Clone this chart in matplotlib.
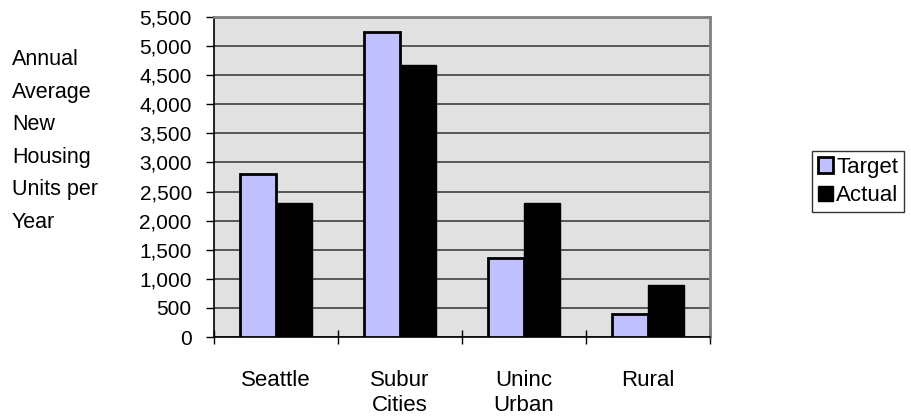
import matplotlib
matplotlib.use("Agg")
import matplotlib.pyplot as plt
import numpy as np
from matplotlib.patches import Patch
from matplotlib.ticker import FuncFormatter, MultipleLocator

plt.rcParams['font.family'] = ['Liberation Sans', 'DejaVu Sans']

categories = ["Seattle", "Subur\nCities", "Uninc\nUrban", "Rural"]
target = [2800, 5250, 1350, 400]
actual = [2300, 4680, 2300, 900]
series_names = ["Target", "Actual"]
y_label = "Annual\nAverage\nNew\nHousing\nUnits per\nYear"

fig = plt.figure(figsize=(9.12, 4.19), dpi=100)
ax = fig.add_axes([214/912, 1-337/419, (710-214)/912, (337-17)/419])
ax.set_facecolor("#E1E1E1")

x = np.arange(len(categories))
w = 0.29
ax.bar(x - w/2, target, w, color="#C0C0FF", edgecolor="black", linewidth=2, zorder=3)
ax.bar(x + w/2, actual, w, color="black", edgecolor="black", linewidth=1, zorder=3)

ax.set_xlim(-0.5, len(categories) - 0.5)
ax.set_ylim(0, 5500)
ax.yaxis.set_major_locator(MultipleLocator(500))
ax.yaxis.set_major_formatter(FuncFormatter(lambda v, p: f"{int(v):,}"))
ax.grid(axis="y", color="#404040", linewidth=1.2, zorder=1)
ax.set_axisbelow(True)

ax.set_xticks(x)
ax.set_xticklabels(categories, fontsize=16, linespacing=1.2)
ax.set_xticks(np.arange(-0.5, len(categories)), minor=True)
ax.tick_params(axis="x", which="major", length=0, pad=24)
ax.tick_params(axis="x", which="minor", direction="inout", length=10, width=1, color="black")
ax.tick_params(axis="y", direction="out", length=6, width=1, color="black", labelsize=15, pad=10)

for s in ["top", "right"]:
    ax.spines[s].set_color("#808080")
    ax.spines[s].set_linewidth(2)
for s in ["left", "bottom"]:
    ax.spines[s].set_color("black")
    ax.spines[s].set_linewidth(1.2)

fig.text(12/912, 1-141/419, y_label, ha="left", va="center", fontsize=15.5, linespacing=1.72)

handles = [Patch(facecolor="#C0C0FF", edgecolor="black", linewidth=2),
           Patch(facecolor="black", edgecolor="black")]
leg = fig.legend(handles, series_names, loc="upper left", bbox_to_anchor=(812/912, 1-151/419),
                 fontsize=16, frameon=True, fancybox=False, handlelength=0.7, handleheight=0.7,
                 handletextpad=0.15, borderpad=0.25, labelspacing=0.35, borderaxespad=0)
leg.get_frame().set_edgecolor("black")
leg.get_frame().set_linewidth(1)

fig.savefig("out.png", dpi=100)
